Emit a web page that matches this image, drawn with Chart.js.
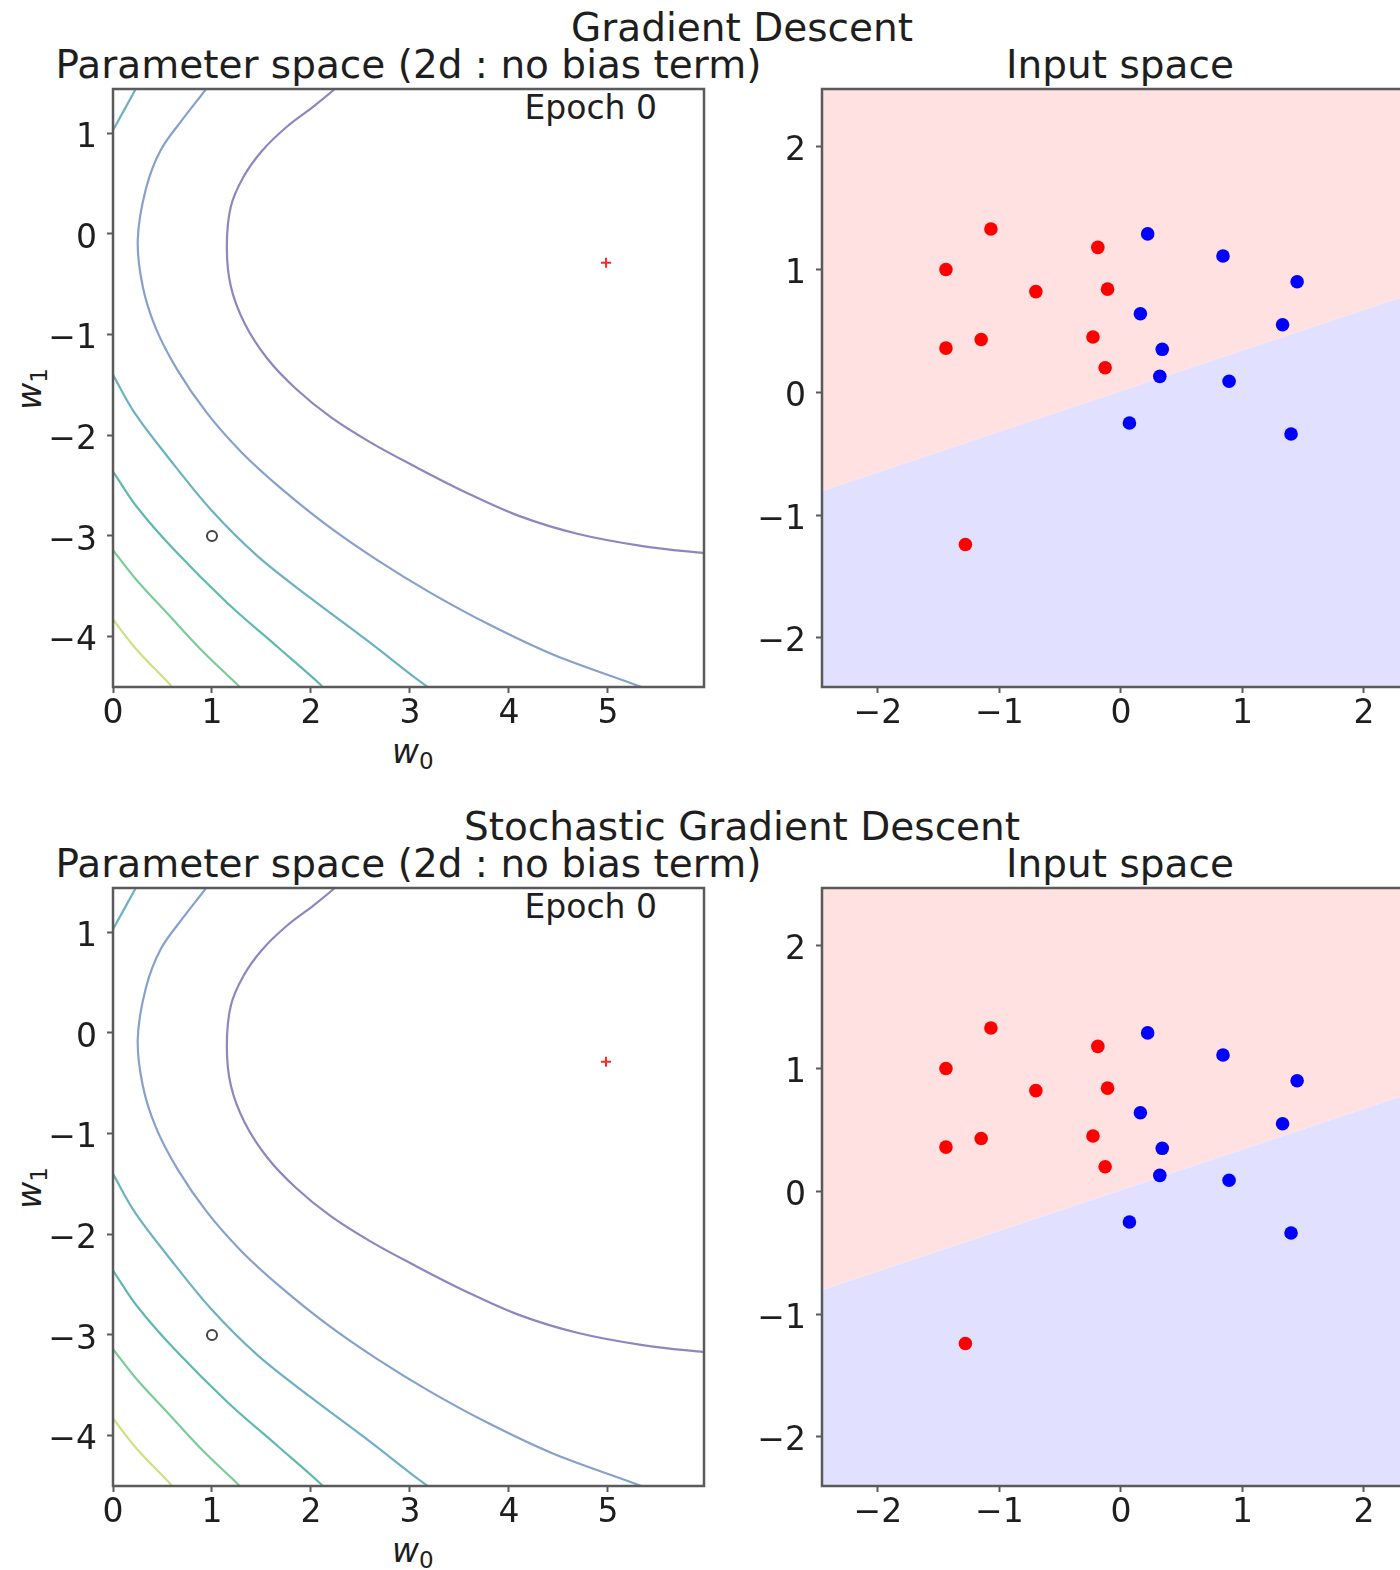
<!DOCTYPE html>
<html>
<head>
<meta charset="utf-8">
<script src="https://cdn.jsdelivr.net/npm/chart.js@4.4.0/dist/chart.umd.min.js"></script>
<style>
html, body { margin:0; padding:0; background:#fff; }
body { width:1400px; height:1570px; position:relative; overflow:hidden; font-family:"DejaVu Sans", sans-serif; color:#1e1e1e; }
canvas { position:absolute; }
.txt { position:absolute; white-space:nowrap; }
.title { font-size:39px; line-height:46px; transform:translateX(-50%); }
.epoch { font-size:33px; line-height:38px; transform:translateX(-100%); }
.axlab { font-size:33px; line-height:38px; }
.axlab i { font-style:italic; }
.axlab sub { font-size:23px; vertical-align:-6px; line-height:0; }
</style>
</head>
<body>

<div id="page"></div>

<script>
/* =========================================
   DATA
========================================= */

/* figure rows */
const rowTitles = ["Gradient Descent", "Stochastic Gradient Descent"];
const epochLabels = ["Epoch 0", "Epoch 0"];

/* parameter space ticks */
const w0Ticks = [0, 1, 2, 3, 4, 5];
const w1Ticks = [1, 0, -1, -2, -3, -4];

/* input space ticks */
const x1Ticks = [-2, -1, 0, 1, 2];
const x2Ticks = [2, 1, 0, -1, -2];

/* contour lines of the loss (w0, w1) */
const purpleW0 = [2.35, 2.24, 2.03, 1.75, 1.50, 1.32, 1.19, 1.15, 1.19, 1.33, 1.56, 1.85, 2.20, 2.60, 3.05, 3.55, 4.10, 4.70, 5.35, 5.97, 6.20];
const purpleW1 = [1.55, 1.44, 1.27, 1.06, 0.82, 0.57, 0.27, -0.13, -0.52, -0.89, -1.24, -1.54, -1.82, -2.07, -2.31, -2.56, -2.80, -2.98, -3.10, -3.17, -3.19];

const blueW0 = [1.00, 0.94, 0.72, 0.48, 0.33, 0.25, 0.30, 0.43, 0.65, 0.95, 1.30, 1.70, 2.17, 2.67, 3.20, 3.80, 4.45, 5.31, 5.40];
const blueW1 = [1.53, 1.44, 1.16, 0.83, 0.44, -0.06, -0.52, -0.93, -1.35, -1.78, -2.17, -2.53, -2.90, -3.24, -3.56, -3.88, -4.18, -4.49, -4.53];

const tealTopW0 = [-0.04, 0.00, 0.23, 0.27];
const tealTopW1 = [0.96, 1.03, 1.44, 1.51];

const tealW0 = [-0.03, 0.00, 0.22, 0.55, 0.99, 1.46, 2.00, 2.57, 3.08, 3.18, 3.22];
const tealW1 = [-1.35, -1.40, -1.78, -2.21, -2.74, -3.20, -3.62, -4.04, -4.43, -4.50, -4.53];

const cyanW0 = [-0.04, 0.00, 0.24, 0.62, 1.16, 1.66, 2.10, 2.13];
const cyanW1 = [-2.31, -2.36, -2.71, -3.14, -3.67, -4.10, -4.48, -4.52];

const greenW0 = [-0.03, 0.00, 0.24, 0.55, 0.92, 1.27, 1.29];
const greenW1 = [-3.10, -3.14, -3.44, -3.77, -4.16, -4.49, -4.52];

const yellowW0 = [-0.03, 0.00, 0.24, 0.58, 0.61];
const yellowW1 = [-3.79, -3.83, -4.13, -4.48, -4.52];

/* markers in parameter space */
const startW = [1.0, -3.0];
const targetW = [4.98, -0.285];

/* input space points */
const redX = [-1.07, -1.44, -0.19, -0.70, -0.11, -1.44, -1.15, -0.23, -0.13, -1.28];
const redY = [1.33, 1.00, 1.18, 0.82, 0.84, 0.36, 0.43, 0.45, 0.20, -1.24];
const blueX = [0.22, 0.84, 1.45, 0.16, 1.33, 0.34, 0.32, 0.89, 0.07, 1.40];
const blueY = [1.29, 1.11, 0.90, 0.64, 0.55, 0.35, 0.13, 0.09, -0.25, -0.34];

/* decision boundary */
const boundaryX = [-2.6, 2.6];
const boundaryY = [-0.85, 0.87];

/* =========================================
   STYLE
========================================= */

const contourStyles = [
  { w0: purpleW0, w1: purpleW1, color: "#9085c0" },
  { w0: blueW0, w1: blueW1, color: "#86a1cc" },
  { w0: tealTopW0, w1: tealTopW1, color: "#6cb2c2" },
  { w0: tealW0, w1: tealW1, color: "#6cb2c2" },
  { w0: cyanW0, w1: cyanW1, color: "#5fb9af" },
  { w0: greenW0, w1: greenW1, color: "#7acd97" },
  { w0: yellowW0, w1: yellowW1, color: "#c8e381" }
];

const tickFont = { family: "DejaVu Sans", size: 33 };
const tickColor = "#1e1e1e";

function toPoints(xs, ys){
  return xs.map((x, i) => ({ x: x, y: ys[i] }));
}

function fmt(v){
  return v < 0 ? "\u2212" + Math.abs(v) : String(v);
}

/* frame around the axes */
const framePlugin = {
  id: "frame",
  afterDatasetsDraw(chart){
    const a = chart.chartArea;
    const c = chart.ctx;
    c.save();
    c.strokeStyle = "#5a5a5a";
    c.lineWidth = 2.5;
    c.strokeRect(a.left, a.top, a.right - a.left, a.bottom - a.top);
    c.restore();
  }
};

function axis(min, max, ticks, size, isX){
  return {
    type: "linear",
    min: min,
    max: max,
    afterBuildTicks: s => { s.ticks = ticks.map(v => ({ value: v })); },
    afterFit: s => { if(isX){ s.height = size; } else { s.width = size; } },
    grid: {
      display: true,
      drawOnChartArea: false,
      drawTicks: true,
      tickLength: 6,
      tickWidth: 2,
      tickColor: "#5a5a5a"
    },
    border: { display: false },
    ticks: {
      font: tickFont,
      color: tickColor,
      padding: isX ? 2 : 10,
      labelOffset: isX ? 0 : 5,
      maxRotation: 0,
      autoSkip: false,
      callback: v => fmt(v)
    }
  };
}

function baseOptions(){
  return {
    responsive: false,
    animation: false,
    events: [],
    layout: { padding: { top: 40, right: 16, left: 0, bottom: 0 } },
    plugins: { legend: { display: false }, tooltip: { enabled: false } }
  };
}

/* =========================================
   BUILD
========================================= */

const page = document.getElementById("page");

function addCanvas(left, top, w, h){
  const cv = document.createElement("canvas");
  cv.width = w;
  cv.height = h;
  cv.style.left = left + "px";
  cv.style.top = top + "px";
  page.appendChild(cv);
  return cv;
}

function addText(cls, html, left, top){
  const d = document.createElement("div");
  d.className = "txt " + cls;
  d.innerHTML = html;
  d.style.left = left + "px";
  d.style.top = top + "px";
  page.appendChild(d);
  return d;
}

function paramChart(off){

  const cv = addCanvas(0, 49 + off, 720, 710);

  const datasets = contourStyles.map(c => ({
    type: "line",
    data: toPoints(c.w0, c.w1),
    borderColor: c.color,
    borderWidth: 2.2,
    pointRadius: 0,
    tension: 0.35,
    fill: false,
    order: 2
  }));

  datasets.push({
    type: "scatter",
    data: [{ x: startW[0], y: startW[1] }],
    pointStyle: "circle",
    pointRadius: 5,
    borderColor: "#444",
    backgroundColor: "#fff",
    borderWidth: 2,
    order: 0
  });

  datasets.push({
    type: "scatter",
    data: [{ x: targetW[0], y: targetW[1] }],
    pointStyle: "cross",
    pointRadius: 5,
    borderColor: "rgba(255,0,0,0.85)",
    borderWidth: 2,
    order: 0
  });

  const opts = baseOptions();
  opts.scales = {
    x: axis(0, 5.97, w0Ticks, 72, true),
    y: axis(-4.5, 1.44, w1Ticks, 113, false)
  };

  new Chart(cv, {
    type: "scatter",
    data: { datasets: datasets },
    options: opts,
    plugins: [framePlugin]
  });
}

function inputChart(off){

  const cv = addCanvas(722, 49 + off, 709, 710);

  const boundary = toPoints(boundaryX, boundaryY);

  const datasets = [
    {
      type: "line",
      data: boundary,
      borderWidth: 0,
      pointRadius: 0,
      tension: 0,
      fill: "end",
      backgroundColor: "rgb(255,225,225)",
      order: 3
    },
    {
      type: "line",
      data: boundary,
      borderWidth: 0,
      pointRadius: 0,
      tension: 0,
      fill: "start",
      backgroundColor: "rgb(225,225,255)",
      order: 3
    },
    {
      type: "scatter",
      data: toPoints(redX, redY),
      pointRadius: 6.8,
      borderWidth: 0,
      backgroundColor: "#ff0000",
      order: 0
    },
    {
      type: "scatter",
      data: toPoints(blueX, blueY),
      pointRadius: 6.8,
      borderWidth: 0,
      backgroundColor: "#0000ff",
      order: 0
    }
  ];

  const opts = baseOptions();
  opts.scales = {
    x: axis(-2.46, 2.42, x1Ticks, 72, true),
    y: axis(-2.4, 2.47, x2Ticks, 100, false)
  };

  new Chart(cv, {
    type: "scatter",
    data: { datasets: datasets },
    options: opts,
    plugins: [framePlugin]
  });
}

function row(i){

  const off = i * 799;

  addText("title", rowTitles[i], 742, 5 + off);
  addText("title", "Parameter space (2d : no bias term)", 408.5, 42 + off);
  addText("title", "Input space", 1120, 42 + off);
  addText("epoch", epochLabels[i], 657, 89 + off);

  addText("axlab", "<i>w</i><sub>0</sub>", 392, 733 + off);

  const w1 = addText("axlab", "<i>w</i><sub>1</sub>", 30, 389 + off);
  w1.style.transform = "translate(-50%,-50%) rotate(-90deg)";

  paramChart(off);
  inputChart(off);
}

row(0);
row(1);
</script>
</body>
</html>
